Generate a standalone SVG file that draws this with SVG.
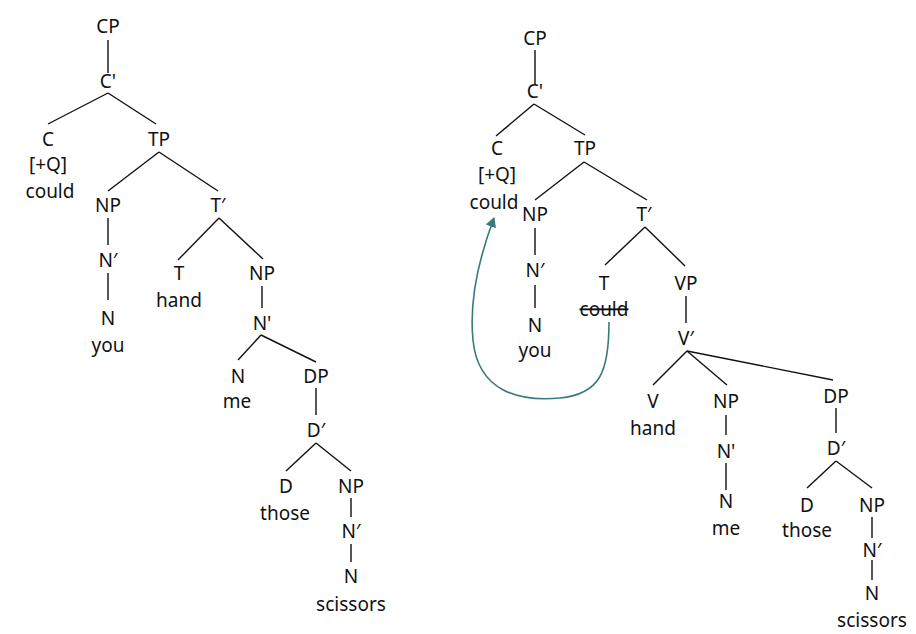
<svg xmlns="http://www.w3.org/2000/svg" width="916" height="634" viewBox="0 0 916 634">
<defs>
<style>
text{font-family:"Noto Sans","Open Sans","DejaVu Sans",sans-serif;font-size:19px;fill:#111;text-anchor:middle}
.e line{stroke:#111;stroke-width:1.4}
.strike{text-decoration:line-through}
</style>
<marker id="ah" viewBox="0 0 10 10" refX="9" refY="5" markerWidth="10" markerHeight="11" markerUnits="userSpaceOnUse" orient="auto" preserveAspectRatio="none">
<path d="M0,0 L10,5 L0,10 z" fill="#3a7a7c"/>
</marker>
</defs>
<rect width="916" height="634" fill="#ffffff"/>
<g class="e" id="edges">
<line x1="108" y1="40" x2="108" y2="73"/>
<line x1="108" y1="93" x2="48" y2="124"/>
<line x1="108" y1="93" x2="156" y2="124"/>
<line x1="159" y1="152" x2="108" y2="191"/>
<line x1="159" y1="152" x2="218" y2="191"/>
<line x1="108" y1="218" x2="108" y2="245"/>
<line x1="108" y1="273" x2="108" y2="300"/>
<line x1="219" y1="218" x2="178" y2="260"/>
<line x1="219" y1="218" x2="263" y2="259"/>
<line x1="262" y1="286" x2="262" y2="308"/>
<line x1="261" y1="335" x2="238" y2="360"/>
<line x1="261" y1="335" x2="316" y2="362"/>
<line x1="316" y1="388" x2="316" y2="415"/>
<line x1="316" y1="443" x2="286" y2="471"/>
<line x1="316" y1="443" x2="351" y2="471"/>
<line x1="351" y1="498" x2="351" y2="517"/>
<line x1="351" y1="544" x2="351" y2="562"/>
<line x1="535" y1="50" x2="535" y2="85"/>
<line x1="534" y1="104" x2="496" y2="136"/>
<line x1="534" y1="104" x2="585" y2="135"/>
<line x1="584" y1="162" x2="535" y2="200"/>
<line x1="584" y1="162" x2="647" y2="200"/>
<line x1="535" y1="228" x2="535" y2="255"/>
<line x1="535" y1="285" x2="535" y2="308"/>
<line x1="645" y1="227" x2="605" y2="265"/>
<line x1="645" y1="227" x2="685" y2="266"/>
<line x1="686" y1="296" x2="686" y2="323"/>
<line x1="687" y1="351" x2="653" y2="385"/>
<line x1="687" y1="351" x2="727" y2="385"/>
<line x1="687" y1="351" x2="833" y2="380"/>
<line x1="726" y1="415" x2="726" y2="435"/>
<line x1="726" y1="463" x2="726" y2="490"/>
<line x1="836" y1="408" x2="836" y2="433"/>
<line x1="836" y1="461" x2="807" y2="488"/>
<line x1="836" y1="461" x2="872" y2="488"/>
<line x1="872" y1="517" x2="872" y2="538"/>
<line x1="872" y1="560" x2="872" y2="580"/>
<path d="M609,322 C609,372 600,394 560,398 C520,402 478,392 473,340 C469,300 480,255 494,218" fill="none" stroke="#3a7a7c" stroke-width="1.6" marker-end="url(#ah)"/>
</g>
<g id="left-tree">
<g id="l-cp"><text x="108" y="33">CP</text></g>
<g id="l-cbar"><text x="108" y="88">C'</text></g>
<g id="l-c"><text x="48" y="146">C</text><text x="48" y="171">[+Q]</text><text x="50" y="198">could</text></g>
<g id="l-tp"><text x="159" y="146">TP</text></g>
<g id="l-np1"><text x="108" y="212">NP</text></g>
<g id="l-nbar1"><text x="108" y="267">N′</text></g>
<g id="l-n1"><text x="108" y="325">N</text><text x="108" y="352">you</text></g>
<g id="l-tbar"><text x="218" y="212">T′</text></g>
<g id="l-t"><text x="179" y="280">T</text><text x="179" y="307">hand</text></g>
<g id="l-np2"><text x="262" y="280">NP</text></g>
<g id="l-nbar2"><text x="262" y="330">N'</text></g>
<g id="l-n2"><text x="238" y="383">N</text><text x="237" y="408">me</text></g>
<g id="l-dp"><text x="316" y="383">DP</text></g>
<g id="l-dbar"><text x="316" y="437">D′</text></g>
<g id="l-d"><text x="286" y="493">D</text><text x="285" y="520">those</text></g>
<g id="l-np3"><text x="351" y="493">NP</text></g>
<g id="l-nbar3"><text x="351" y="538">N′</text></g>
<g id="l-n3"><text x="351" y="583">N</text><text x="351" y="611">scissors</text></g>
</g>
<g id="right-tree">
<g id="r-cp"><text x="535" y="45">CP</text></g>
<g id="r-cbar"><text x="535" y="98">C'</text></g>
<g id="r-c"><text x="497" y="155">C</text><text x="497" y="181">[+Q]</text><text x="494" y="209">could</text></g>
<g id="r-tp"><text x="585" y="155">TP</text></g>
<g id="r-np1"><text x="535" y="221">NP</text></g>
<g id="r-nbar1"><text x="535" y="277">N′</text></g>
<g id="r-n1"><text x="535" y="332">N</text><text x="535" y="357">you</text></g>
<g id="r-tbar"><text x="644" y="221">T′</text></g>
<g id="r-t"><text x="604" y="290">T</text><text x="604" y="316" class="strike">could</text></g>
<g id="r-vp"><text x="686" y="290">VP</text></g>
<g id="r-vbar"><text x="686" y="345">V′</text></g>
<g id="r-v"><text x="653" y="408">V</text><text x="653" y="435">hand</text></g>
<g id="r-np2"><text x="726" y="408">NP</text></g>
<g id="r-nbar2"><text x="726" y="458">N'</text></g>
<g id="r-n2"><text x="726" y="508">N</text><text x="726" y="535">me</text></g>
<g id="r-dp"><text x="836" y="403">DP</text></g>
<g id="r-dbar"><text x="836" y="455">D′</text></g>
<g id="r-d"><text x="807" y="512">D</text><text x="807" y="537">those</text></g>
<g id="r-np3"><text x="872" y="512">NP</text></g>
<g id="r-nbar3"><text x="872" y="557">N′</text></g>
<g id="r-n3"><text x="872" y="600">N</text><text x="872" y="627">scissors</text></g>
</g>
</svg>
